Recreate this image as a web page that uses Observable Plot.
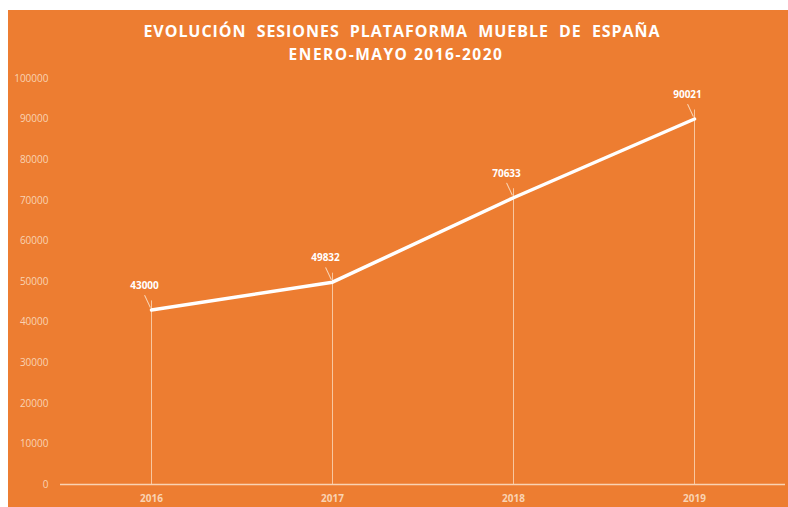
<!DOCTYPE html>
<html><head><meta charset="utf-8">
<script src="https://cdn.jsdelivr.net/npm/d3@7"></script>
<script src="https://cdn.jsdelivr.net/npm/@observablehq/plot@0.6"></script>
<style>
html,body{margin:0;padding:0;background:#fff;}
#wrap{position:absolute;left:8px;top:10px;width:780px;height:497px;background:#ED7D31;overflow:hidden;font-family:"Open Sans",sans-serif;}
.t{position:absolute;left:0;width:780px;text-align:center;color:#fff;font-weight:bold;white-space:pre;}
#t1{top:10px;font-size:16px;line-height:22px;letter-spacing:0.95px;left:4px;}
#t2{top:33px;font-size:15.5px;line-height:22px;letter-spacing:1.5px;left:-2px;}
#chart{position:absolute;top:58px;left:0;}
</style></head>
<body>
<div id="wrap">
  <div class="t" id="t1">EVOLUCIÓN  SESIONES  PLATAFORMA  MUEBLE  DE  ESPAÑA</div>
  <div class="t" id="t2">ENERO-MAYO 2016-2020</div>
  <div id="chart"></div>
</div>
<script>
const years = ["2016", "2017", "2018", "2019"];
const sessions = [43000, 49832, 70633, 90021];
const yTicks = [0, 10000, 20000, 30000, 40000, 50000, 60000, 70000, 80000, 90000, 100000];

const data = years.map((year, i) => ({year, value: sessions[i]}));
const pale = "#f9d3b3";

const plot = Plot.plot({
  width: 780,
  height: 439,
  marginLeft: 52,
  marginRight: 3,
  marginTop: 10,
  marginBottom: 23,
  style: {background: "transparent", fontFamily: "'Open Sans', sans-serif", fontSize: "10px", overflow: "visible"},
  x: {type: "point", domain: years, padding: 0.5},
  y: {domain: [0, 100000]},
  marks: [
    Plot.axisY({ticks: yTicks, tickSize: 0, tickPadding: 12, tickFormat: d3.format("d"), label: null, fill: pale, fontSize: 10}),
    Plot.axisX({tickSize: 0, tickPadding: 10, label: null, fill: pale, fontSize: 10, fontWeight: "bold"}),
    Plot.ruleY([0], {stroke: pale, strokeWidth: 1.5}),
    Plot.ruleX(data, {x: "year", y: "value", stroke: pale, strokeWidth: 1, strokeOpacity: 0.85, insetBottom: 9}),
    Plot.line(data, {x: "year", y: "value", stroke: "#fff", strokeWidth: 3.5}),
    Plot.vector(data, {x: "year", y: "value", length: 16, rotate: -25, anchor: "start", stroke: pale, strokeWidth: 1,
      shape: {draw(ctx, l) { ctx.moveTo(0, -3); ctx.lineTo(0, -l); }}}),
    Plot.text(data, {x: "year", y: "value", text: d => String(d.value), dx: -7, dy: -24, fill: "#fff", fontSize: 10, fontWeight: "bold"})
  ]
});
document.getElementById("chart").appendChild(plot);
</script>
</body></html>
